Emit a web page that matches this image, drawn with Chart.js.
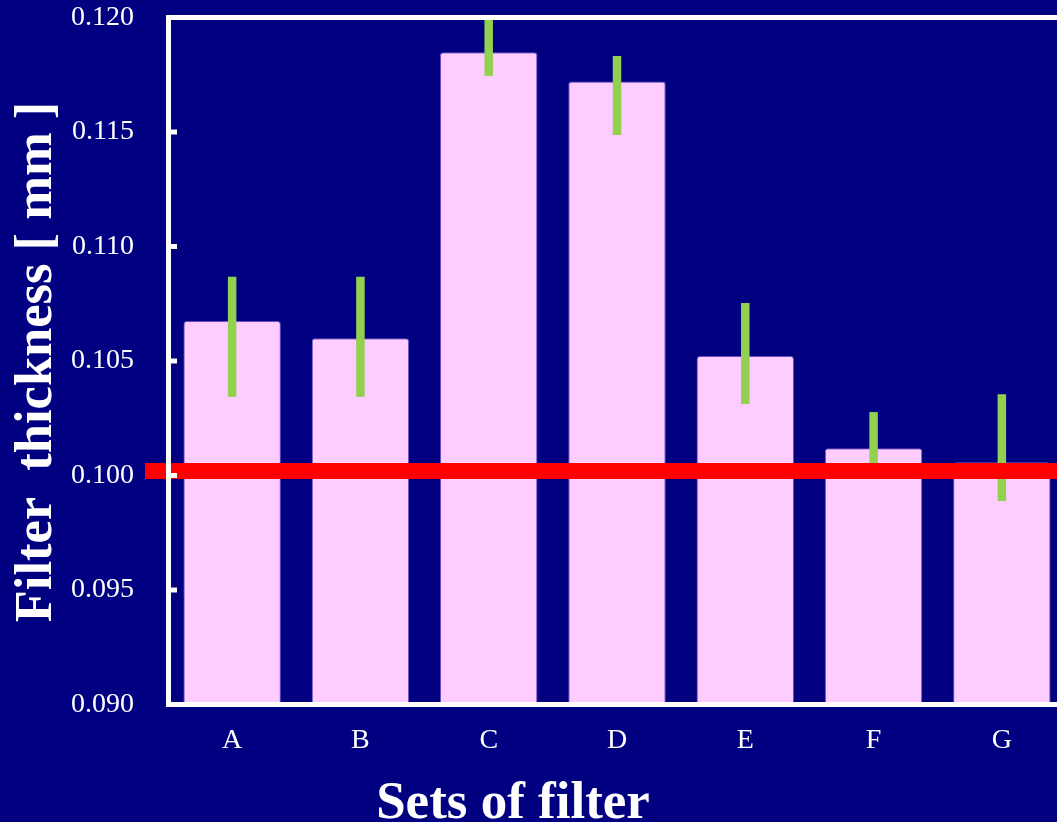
<!DOCTYPE html>
<html>
<head>
<meta charset="utf-8">
<script src="https://cdn.jsdelivr.net/npm/chart.js@4.4.1/dist/chart.umd.min.js"></script>
<style>
    html, body { margin: 0; padding: 0; overflow: hidden; background: #000080; }
    #wrap { width: 1070px; height: 822px; }
</style>
</head>
<body>
<div id="wrap"><canvas id="filterChart" width="1070" height="822"></canvas></div>
<script>
// Data
const categories = ['A', 'B', 'C', 'D', 'E', 'F', 'G'];
const thickness = [0.10675, 0.10599, 0.11848, 0.11721, 0.10522, 0.10119, 0.10058];
const errLow = [0.10344, 0.10344, 0.11745, 0.11487, 0.10312, 0.10020, 0.09889];
const errHigh = [0.10868, 0.10868, 0.12000, 0.11832, 0.10753, 0.10277, 0.10355];
const nominalThickness = 0.1002;
const yTitle = 'Filter  thickness [ mm ]';
const xTitle = 'Sets of filter';

const serif = "'Liberation Serif', 'Times New Roman', serif";

// error bars, red nominal line, frame and titles
const overlayPlugin = {
    id: 'overlay',
    afterDatasetsDraw(chart) {
        const ctx = chart.ctx;
        const x = chart.scales.x;
        const y = chart.scales.y;
        const area = chart.chartArea;

        ctx.save();
        // error bars
        ctx.strokeStyle = '#92D050';
        ctx.lineWidth = 8.5;
        errLow.forEach((lo, i) => {
            const px = x.getPixelForValue(i);
            ctx.beginPath();
            ctx.moveTo(px, y.getPixelForValue(lo));
            ctx.lineTo(px, y.getPixelForValue(errHigh[i]));
            ctx.stroke();
        });

        // nominal line
        const ny = y.getPixelForValue(nominalThickness);
        ctx.strokeStyle = '#FF0000';
        ctx.lineWidth = 16;
        ctx.beginPath();
        ctx.moveTo(area.left - 23, ny);
        ctx.lineTo(chart.width, ny);
        ctx.stroke();

        // frame
        ctx.strokeStyle = '#FFFFFF';
        ctx.lineWidth = 5;
        ctx.beginPath();
        ctx.moveTo(chart.width, area.top);
        ctx.lineTo(area.left + 0.5, area.top);
        ctx.lineTo(area.left + 0.5, area.bottom);
        ctx.lineTo(chart.width, area.bottom);
        ctx.stroke();

        // inner tick marks
        ctx.lineWidth = 5;
        y.ticks.forEach(t => {
            const py = y.getPixelForValue(t.value);
            ctx.beginPath();
            ctx.moveTo(area.left, py);
            ctx.lineTo(area.left + 9, py);
            ctx.stroke();
        });

        // titles
        ctx.fillStyle = '#FFFFFF';
        ctx.textAlign = 'center';
        ctx.textBaseline = 'alphabetic';
        ctx.font = 'bold 53px ' + serif;
        ctx.fillText(xTitle, 513, 818);

        ctx.translate(51, 362);
        ctx.rotate(-Math.PI / 2);
        ctx.font = 'bold 52.5px ' + serif;
        ctx.fillText(yTitle, 0, 0);
        ctx.restore();
    }
};

const ctx = document.getElementById('filterChart').getContext('2d');

new Chart(ctx, {
    type: 'bar',
    data: {
        labels: categories,
        datasets: [{
            data: thickness,
            backgroundColor: '#FFCCFF',
            borderColor: 'rgba(150, 110, 220, 0.7)',
            borderWidth: 1,
            borderRadius: 3,
            borderSkipped: 'bottom',
            barPercentage: 0.76,
            categoryPercentage: 1.0
        }]
    },
    options: {
        responsive: false,
        animation: false,
        devicePixelRatio: 1,
        layout: {
            padding: { top: 17.5, right: 4, left: 0, bottom: 0 }
        },
        plugins: {
            legend: { display: false },
            tooltip: { enabled: false }
        },
        scales: {
            x: {
                grid: { display: false, drawTicks: false },
                border: { display: false },
                ticks: {
                    color: '#FFFFFF',
                    padding: 19,
                    font: { family: serif, size: 28 }
                },
                afterFit(scale) {
                    scale.height = 117.5;
                    scale.paddingLeft = 0;
                    scale.paddingRight = 0;
                }
            },
            y: {
                min: 0.090,
                max: 0.120,
                grid: { display: false, drawTicks: false },
                border: { display: false },
                ticks: {
                    stepSize: 0.005,
                    color: '#FFFFFF',
                    padding: 34,
                    font: { family: serif, size: 28 },
                    callback: v => v.toFixed(3)
                },
                afterFit(scale) {
                    scale.width = 168;
                    scale.paddingTop = 0;
                    scale.paddingBottom = 0;
                }
            }
        }
    },
    plugins: [overlayPlugin]
});
</script>
</body>
</html>
